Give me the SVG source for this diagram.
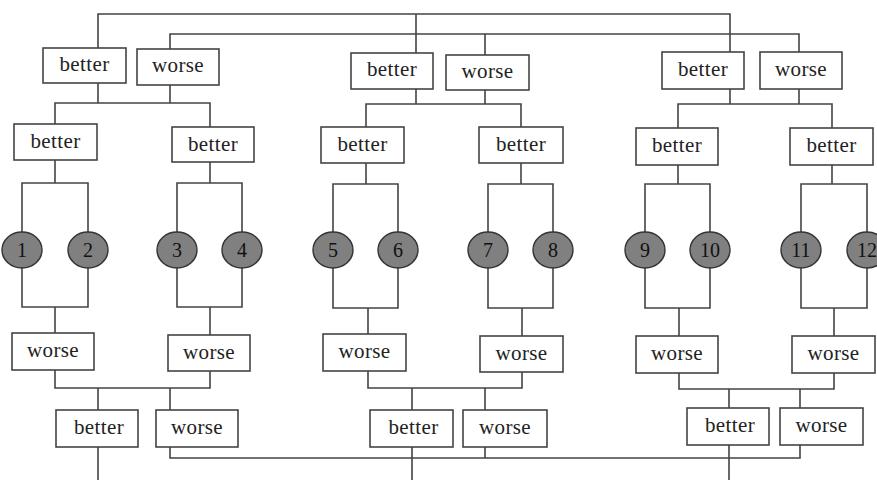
<svg xmlns="http://www.w3.org/2000/svg" width="877" height="480" viewBox="0 0 877 480">
<style>
.box rect{fill:#fff;stroke:#444;stroke-width:1.6}
.box text{font-family:"Liberation Serif",serif;font-size:21px;letter-spacing:0.4px;fill:#222;text-anchor:middle}
.c ellipse{fill:#808080;stroke:#333;stroke-width:1.4}
.c text{font-family:"Liberation Serif",serif;font-size:20px;fill:#111;text-anchor:middle}
#connectors path{fill:none;stroke:#444;stroke-width:1.6}
</style>
<rect width="877" height="480" fill="#fff"/>
<g id="connectors">
<path d="M98,48V14H730V52M416,14V53"/>
<path d="M170,49V34H799V52M485,34V55"/>
<path d="M98,83V103M170,85V103M55,124V103H210V127"/>
<path d="M416,89V104M485,90V104M366,127V104H521V127"/>
<path d="M730,89V104M799,89V104M678,128V104H832V128"/>
<path d="M55,160V183M22,232V183H88V232M22,268V307H88V268M55,307V333"/>
<path d="M210,162V183M177,232V183H242V232M177,268V307H242V268M210,307V335"/>
<path d="M366,163V184M333,232V184H398V232M333,268V308H398V268M368,308V334"/>
<path d="M521,163V184M488,232V184H553V232M488,268V308H553V268M522,308V336"/>
<path d="M678,165V184M645,232V184H710V232M645,268V308H710V268M679,308V336"/>
<path d="M832,165V184M801,232V184H867V232M801,268V308H867V268M834,308V336"/>
<path d="M55,370V388H210V371M98,388V410M170,388V410"/>
<path d="M368,371V388H522V372M412,388V410M485,388V410"/>
<path d="M679,373V389H834V373M729,389V408M800,389V408"/>
<path d="M98,447V480M412,447V480M729,445V480"/>
<path d="M170,447V458H800V445M485,447V458"/>
</g>
<g id="t-better1" class="box"><rect x="43" y="48" width="83" height="35"/><text x="84.5" y="71">better</text></g>
<g id="t-worse1" class="box"><rect x="137" y="49" width="82" height="36"/><text x="178" y="72">worse</text></g>
<g id="t-better2" class="box"><rect x="351" y="53" width="82" height="36"/><text x="392" y="76">better</text></g>
<g id="t-worse2" class="box"><rect x="446" y="55" width="83" height="35"/><text x="487.5" y="78">worse</text></g>
<g id="t-better3" class="box"><rect x="662" y="52" width="82" height="37"/><text x="703" y="76">better</text></g>
<g id="t-worse3" class="box"><rect x="760" y="52" width="82" height="37"/><text x="801" y="76">worse</text></g>
<g id="s-better1" class="box"><rect x="14" y="124" width="83" height="36"/><text x="55.5" y="148">better</text></g>
<g id="s-better2" class="box"><rect x="172" y="127" width="82" height="35"/><text x="213" y="151">better</text></g>
<g id="s-better3" class="box"><rect x="321" y="127" width="83" height="36"/><text x="362.5" y="151">better</text></g>
<g id="s-better4" class="box"><rect x="479" y="127" width="84" height="36"/><text x="521" y="151">better</text></g>
<g id="s-better5" class="box"><rect x="636" y="128" width="82" height="37"/><text x="677" y="152">better</text></g>
<g id="s-better6" class="box"><rect x="790" y="128" width="83" height="37"/><text x="831.5" y="152">better</text></g>
<g id="n1" class="c"><ellipse cx="22" cy="250" rx="20" ry="18"/><text x="22" y="257">1</text></g>
<g id="n2" class="c"><ellipse cx="88" cy="250" rx="20" ry="18"/><text x="88" y="257">2</text></g>
<g id="n3" class="c"><ellipse cx="177" cy="250" rx="20" ry="18"/><text x="177" y="257">3</text></g>
<g id="n4" class="c"><ellipse cx="242" cy="250" rx="20" ry="18"/><text x="242" y="257">4</text></g>
<g id="n5" class="c"><ellipse cx="333" cy="250" rx="20" ry="18"/><text x="333" y="257">5</text></g>
<g id="n6" class="c"><ellipse cx="398" cy="250" rx="20" ry="18"/><text x="398" y="257">6</text></g>
<g id="n7" class="c"><ellipse cx="488" cy="250" rx="20" ry="18"/><text x="488" y="257">7</text></g>
<g id="n8" class="c"><ellipse cx="553" cy="250" rx="20" ry="18"/><text x="553" y="257">8</text></g>
<g id="n9" class="c"><ellipse cx="645" cy="250" rx="20" ry="18"/><text x="645" y="257">9</text></g>
<g id="n10" class="c"><ellipse cx="710" cy="250" rx="20" ry="18"/><text x="710" y="257">10</text></g>
<g id="n11" class="c"><ellipse cx="801" cy="250" rx="20" ry="18"/><text x="801" y="257">11</text></g>
<g id="n12" class="c"><ellipse cx="867" cy="250" rx="20" ry="18"/><text x="867" y="257">12</text></g>
<g id="w-worse1" class="box"><rect x="12" y="333" width="82" height="37"/><text x="53" y="357">worse</text></g>
<g id="w-worse2" class="box"><rect x="168" y="335" width="82" height="36"/><text x="209" y="359">worse</text></g>
<g id="w-worse3" class="box"><rect x="323" y="334" width="83" height="37"/><text x="364.5" y="358">worse</text></g>
<g id="w-worse4" class="box"><rect x="480" y="336" width="83" height="36"/><text x="521.5" y="360">worse</text></g>
<g id="w-worse5" class="box"><rect x="636" y="336" width="82" height="37"/><text x="677" y="360">worse</text></g>
<g id="w-worse6" class="box"><rect x="792" y="336" width="83" height="37"/><text x="833.5" y="360">worse</text></g>
<g id="b-better1" class="box"><rect x="56" y="410" width="82" height="37"/><text x="99" y="434">better</text></g>
<g id="b-worse1" class="box"><rect x="156" y="410" width="82" height="37"/><text x="197" y="434">worse</text></g>
<g id="b-better2" class="box"><rect x="370" y="410" width="83" height="37"/><text x="413.5" y="434">better</text></g>
<g id="b-worse2" class="box"><rect x="463" y="410" width="84" height="37"/><text x="505" y="434">worse</text></g>
<g id="b-better3" class="box"><rect x="687" y="408" width="82" height="37"/><text x="730" y="432">better</text></g>
<g id="b-worse3" class="box"><rect x="780" y="408" width="83" height="37"/><text x="821.5" y="432">worse</text></g>
</svg>
